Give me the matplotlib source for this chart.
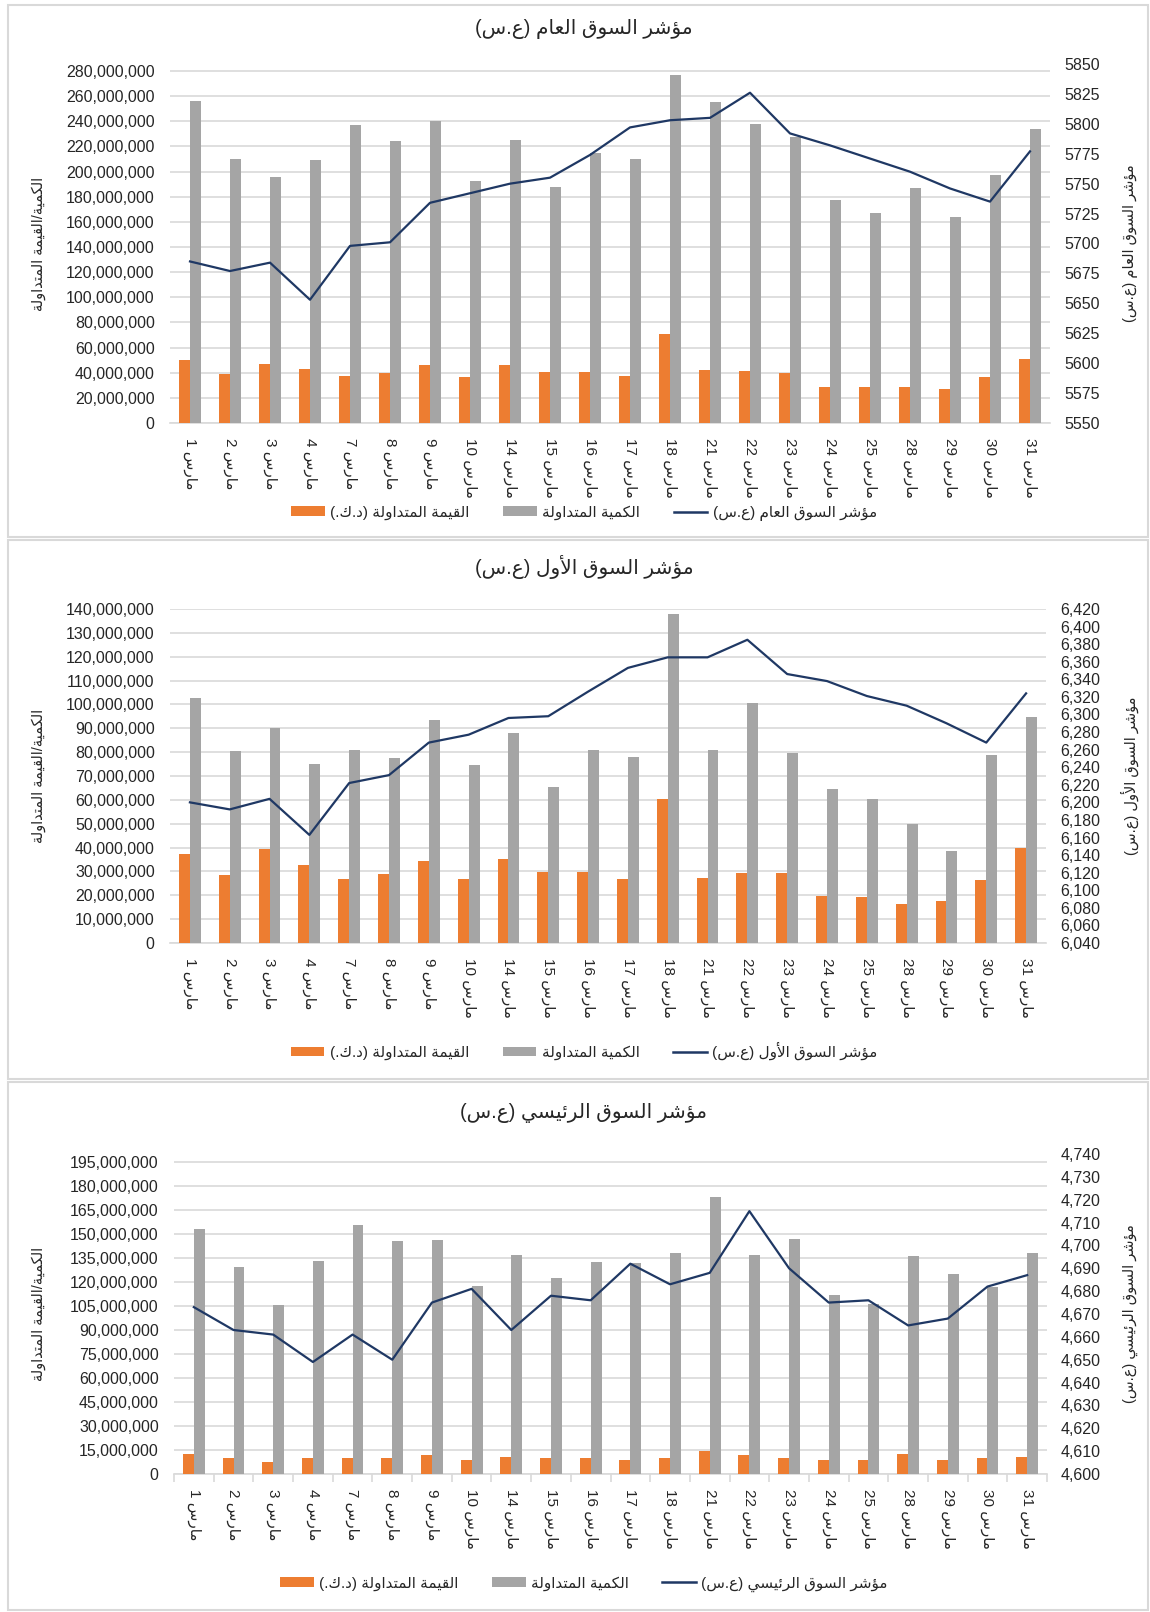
import matplotlib
matplotlib.use("Agg")
import matplotlib.pyplot as plt
from matplotlib.patches import Rectangle, Patch
from matplotlib.lines import Line2D
from matplotlib.ticker import FuncFormatter, FixedLocator
import numpy as np

# ---------------- data ----------------
days = [1, 2, 3, 4, 7, 8, 9, 10, 14, 15, 16, 17, 18, 21, 22, 23, 24, 25, 28, 29, 30, 31]
month = "مارس"

# Panel 1: general market index
p1_value = [50.0, 39.0, 47.0, 43.3, 37.6, 39.8, 46.4, 36.5, 46.4, 40.9, 40.9, 37.0, 71.0, 42.5,
            41.4, 40.0, 28.8, 28.8, 28.8, 27.4, 36.8, 51.0]
p1_qty = [256.0, 210.0, 196.0, 209.0, 236.7, 224.0, 240.5, 192.8, 225.4, 187.9, 214.5, 210.0,
          276.7, 255.0, 238.0, 227.4, 177.0, 167.0, 186.8, 164.0, 197.5, 234.0]
p1_index = [5685, 5677, 5684, 5653, 5698, 5701, 5734, 5742, 5750, 5755, 5774, 5797, 5803, 5805,
            5826, 5792, 5782, 5771, 5760, 5746, 5735, 5777]

# Panel 2: premier market index
p2_value = [37.5, 28.4, 39.4, 32.8, 26.8, 28.9, 34.3, 26.8, 35.4, 29.6, 29.6, 26.8, 60.2, 27.3,
            29.2, 29.2, 19.5, 19.2, 16.3, 17.8, 26.3, 40.0]
p2_qty = [102.6, 80.4, 90.1, 75.0, 80.8, 77.5, 93.4, 74.5, 88.2, 65.4, 81.1, 77.8, 137.7, 81.1,
          100.7, 79.7, 64.5, 60.2, 49.8, 38.4, 78.7, 94.8]
p2_index = [6200, 6192, 6204, 6163, 6222, 6231, 6268, 6277, 6296, 6298, 6326, 6353, 6365, 6365,
            6385, 6346, 6338, 6321, 6310, 6290, 6268, 6324]

# Panel 3: main market index
p3_value = [12.5, 10.2, 7.4, 10.2, 10.2, 10.2, 11.9, 8.9, 10.8, 10.2, 10.2, 8.9, 10.2, 14.6,
            11.9, 10.2, 8.9, 8.9, 12.5, 8.9, 10.2, 10.8]
p3_qty = [153.0, 129.5, 105.8, 133.5, 155.4, 145.6, 146.2, 117.4, 136.7, 122.3, 132.5, 131.8,
          138.4, 173.0, 136.7, 146.9, 111.7, 106.2, 136.3, 125.0, 117.0, 138.0]
p3_index = [4673, 4663, 4661, 4649, 4661, 4650, 4675, 4681, 4663, 4678, 4676, 4692, 4683, 4688,
            4715, 4690, 4675, 4676, 4665, 4668, 4682, 4687]

titles = ["مؤشر السوق العام (ع.س)", "مؤشر السوق الأول (ع.س)", "مؤشر السوق الرئيسي (ع.س)"]
left_label = "الكمية/القيمة المتداولة"
legend_value = "القيمة المتداولة (د.ك.)"
legend_qty = "الكمية المتداولة"

# ---------------- minimal Arabic shaping ----------------
_LETTERS = [
    ("\u0621", 0xFE80, "N"), ("\u0622", 0xFE81, "R"), ("\u0623", 0xFE83, "R"),
    ("\u0624", 0xFE85, "R"), ("\u0625", 0xFE87, "R"), ("\u0626", 0xFE89, "D"),
    ("\u0627", 0xFE8D, "R"), ("\u0628", 0xFE8F, "D"), ("\u0629", 0xFE93, "R"),
    ("\u062A", 0xFE95, "D"), ("\u062B", 0xFE99, "D"), ("\u062C", 0xFE9D, "D"),
    ("\u062D", 0xFEA1, "D"), ("\u062E", 0xFEA5, "D"), ("\u062F", 0xFEA9, "R"),
    ("\u0630", 0xFEAB, "R"), ("\u0631", 0xFEAD, "R"), ("\u0632", 0xFEAF, "R"),
    ("\u0633", 0xFEB1, "D"), ("\u0634", 0xFEB5, "D"), ("\u0635", 0xFEB9, "D"),
    ("\u0636", 0xFEBD, "D"), ("\u0637", 0xFEC1, "D"), ("\u0638", 0xFEC5, "D"),
    ("\u0639", 0xFEC9, "D"), ("\u063A", 0xFECD, "D"), ("\u0641", 0xFED1, "D"),
    ("\u0642", 0xFED5, "D"), ("\u0643", 0xFED9, "D"), ("\u0644", 0xFEDD, "D"),
    ("\u0645", 0xFEE1, "D"), ("\u0646", 0xFEE5, "D"), ("\u0647", 0xFEE9, "D"),
    ("\u0648", 0xFEED, "R"), ("\u0649", 0xFEEF, "R"), ("\u064A", 0xFEF1, "D"),
]
_FORMS = {c: (b, t) for c, b, t in _LETTERS}
_LAMALEF = {"\u0622": (0xFEF5, 0xFEF6), "\u0623": (0xFEF7, 0xFEF8),
            "\u0625": (0xFEF9, 0xFEFA), "\u0627": (0xFEFB, 0xFEFC)}


def ar(text):
    toks = []
    i = 0
    while i < len(text):
        c = text[i]
        if c == "\u0644" and i + 1 < len(text) and text[i + 1] in _LAMALEF:
            toks.append(("LA", text[i + 1]))
            i += 2
        else:
            toks.append(("C", c))
            i += 1

    def join_next(t):
        return t[0] == "C" and t[1] in _FORMS and _FORMS[t[1]][1] == "D"

    def join_prev(t):
        return t[0] == "LA" or (t[1] in _FORMS and _FORMS[t[1]][1] in "DR")

    out = []
    for k, t in enumerate(toks):
        prev = toks[k - 1] if k > 0 else None
        nxt = toks[k + 1] if k + 1 < len(toks) else None
        cp = prev is not None and join_next(prev) and join_prev(t)
        cn = nxt is not None and join_next(t) and join_prev(nxt)
        if t[0] == "LA":
            iso, fin = _LAMALEF[t[1]]
            out.append(chr(fin if cp else iso))
        elif t[1] in _FORMS:
            b, typ = _FORMS[t[1]]
            if typ == "N":
                out.append(chr(b))
            elif typ == "R":
                out.append(chr(b + 1 if cp else b))
            else:
                if cp and cn:
                    out.append(chr(b + 3))
                elif cp:
                    out.append(chr(b + 1))
                elif cn:
                    out.append(chr(b + 2))
                else:
                    out.append(chr(b))
        else:
            out.append(t[1])
    vis = "".join(reversed(out))
    return vis.translate(str.maketrans("()", ")("))


# ---------------- styling ----------------
FAM = ["Liberation Sans", "DejaVu Sans"]
plt.rcParams["font.family"] = FAM
ORANGE = "#ED7D31"
GRAY = "#A5A5A5"
NAVY = "#1F3864"
GRID = "#D9D9D9"
TXT = "#262626"

W, H = 1150, 1612
fig = plt.figure(figsize=(W / 100, H / 100), dpi=100)


def fx(x):
    return x / W


def fy(y):
    return 1 - y / H


# panel frames
for (x0, y0, x1, y1) in [(8, 5, 1148, 537), (8, 540, 1148, 1079), (8, 1082, 1148, 1610)]:
    fig.add_artist(Rectangle((fx(x0), fy(y1)), fx(x1 - x0), (y1 - y0) / H,
                             transform=fig.transFigure, fill=False,
                             edgecolor=GRID, linewidth=1.5))

panels = [
    dict(value=p1_value, qty=p1_qty, index=p1_index, box=(170, 64, 1050, 423),
         lmax=285.5, lstep=20, ltop=280, rmin=5550, rmax=5850, rstep=25, rcomma=False,
         title_y=29, legend_y=513, ticks=False),
    dict(value=p2_value, qty=p2_qty, index=p2_index, box=(170, 609, 1046, 943),
         lmax=140, lstep=10, ltop=140, rmin=6040, rmax=6420, rstep=20, rcomma=True,
         title_y=567, legend_y=1051, ticks=False),
    dict(value=p3_value, qty=p3_qty, index=p3_index, box=(174, 1154, 1047, 1474),
         lmax=200.1, lstep=15, ltop=195, rmin=4600, rmax=4740, rstep=10, rcomma=True,
         title_y=1113, legend_y=1584, ticks=True),
]

x = np.arange(len(days))
bw = 0.275
xlabels = [f"{d} " + ar(month) for d in days]

for p, title in zip(panels, titles):
    l, t, r, b = p["box"]
    ax = fig.add_axes([fx(l), fy(b), fx(r - l), (b - t) / H])
    ax2 = ax.twinx()
    ax.set_zorder(1)
    ax2.set_zorder(2)
    ax.patch.set_visible(False)

    val = np.array(p["value"]) * 1e6
    qty = np.array(p["qty"]) * 1e6
    ax.bar(x - bw / 2, val, width=bw, color=ORANGE, zorder=3)
    ax.bar(x + bw / 2, qty, width=bw, color=GRAY, zorder=3)
    ax2.plot(x, p["index"], color=NAVY, linewidth=1.6, zorder=4)

    ax.set_xlim(-0.5, len(days) - 0.5)
    ax.set_ylim(0, p["lmax"] * 1e6)
    lt = np.arange(0, p["ltop"] + 0.1, p["lstep"]) * 1e6
    ax.set_yticks(lt)
    ax.yaxis.set_major_formatter(FuncFormatter(lambda v, _: f"{v:,.0f}"))
    ax.grid(axis="y", color=GRID, linewidth=1.2, zorder=0)
    ax.set_axisbelow(True)

    ax2.set_ylim(p["rmin"], p["rmax"])
    ax2.set_yticks(np.arange(p["rmin"], p["rmax"] + 0.1, p["rstep"]))
    if p["rcomma"]:
        ax2.yaxis.set_major_formatter(FuncFormatter(lambda v, _: f"{v:,.0f}"))
    else:
        ax2.yaxis.set_major_formatter(FuncFormatter(lambda v, _: f"{v:.0f}"))

    for a in (ax, ax2):
        for s in ("top", "left", "right"):
            a.spines[s].set_visible(False)
    ax2.spines["bottom"].set_visible(False)
    ax.spines["bottom"].set_color(GRID)
    ax.spines["bottom"].set_linewidth(1.2)

    ax.tick_params(axis="y", length=0, pad=11, labelsize=11.5, labelcolor=TXT)
    ax2.tick_params(axis="y", length=0, pad=10, labelsize=11.5, labelcolor=TXT)
    ax.set_xticks(x)
    ax.set_xticklabels(xlabels, rotation=-90, va="top", ha="center")
    ax.tick_params(axis="x", length=0, pad=11, labelsize=11, labelcolor=TXT)
    if p["ticks"]:
        ax.xaxis.set_minor_locator(FixedLocator(np.arange(-0.5, len(days), 1.0)))
        ax.tick_params(axis="x", which="minor", length=6, color=GRID, width=1.2)

    # titles and axis labels
    fig.text(fx(584), fy(p["title_y"]), ar(title), ha="center", va="center",
             fontsize=14.5, color=TXT)
    cy = fy((t + b) / 2)
    fig.text(fx(39), cy, ar(left_label), rotation=90, ha="center", va="center",
             fontsize=10.5, color=TXT)
    fig.text(fx(1130), cy, ar(title), rotation=90, ha="center", va="center",
             fontsize=10.5, color=TXT)

    handles = [Patch(facecolor=ORANGE, edgecolor="none"),
               Patch(facecolor=GRAY, edgecolor="none"),
               Line2D([0], [0], color=NAVY, linewidth=1.8)]
    labels = [ar(legend_value), ar(legend_qty), ar(title)]
    fig.legend(handles, labels, loc="center", bbox_to_anchor=(fx(584), fy(p["legend_y"])),
               ncol=3, frameon=False, fontsize=11, handlelength=2.2, handleheight=0.6,
               handletextpad=0.35, columnspacing=2.2, labelcolor=TXT)

fig.savefig("out.png", dpi=100, facecolor="white")
